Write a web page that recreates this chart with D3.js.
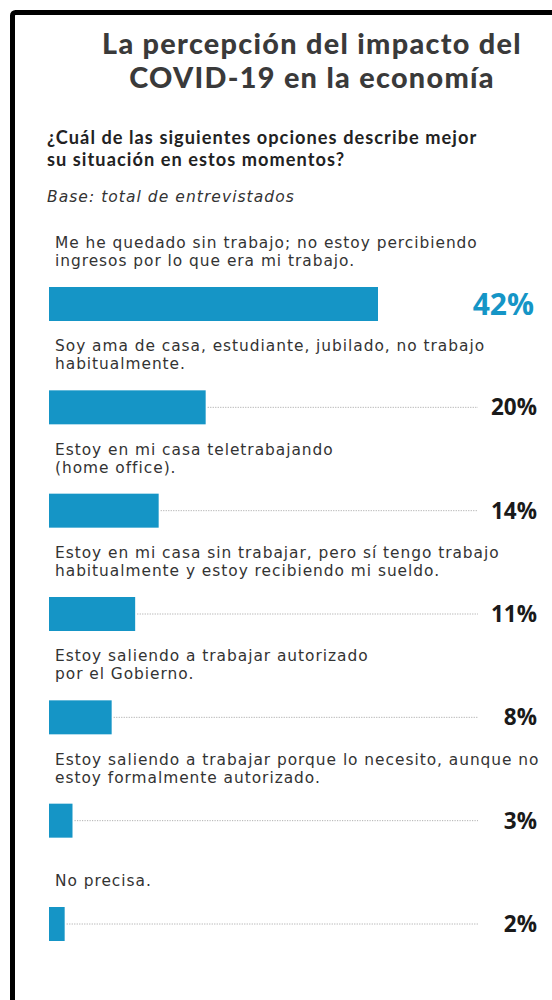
<!DOCTYPE html>
<html lang="es">
<head>
<meta charset="utf-8">
<script src="https://cdn.jsdelivr.net/npm/d3@7"></script>
<style>
  html, body { margin: 0; padding: 0; background: #fff; }
  svg { display: block; }
</style>
</head>
<body>
<div id="chart"></div>
<script>
// Survey answers, one entry per option (label lines as drawn)
const categories = [
  ["Me he quedado sin trabajo; no estoy percibiendo", "ingresos por lo que era mi trabajo."],
  ["Soy ama de casa, estudiante, jubilado, no trabajo", "habitualmente."],
  ["Estoy en mi casa teletrabajando", "(home office)."],
  ["Estoy en mi casa sin trabajar, pero sí tengo trabajo", "habitualmente y estoy recibiendo mi sueldo."],
  ["Estoy saliendo a trabajar autorizado", "por el Gobierno."],
  ["Estoy saliendo a trabajar porque lo necesito, aunque no", "estoy formalmente autorizado."],
  ["No precisa."]
];
const values = [42, 20, 14, 11, 8, 3, 2];
const valueLabels = ["42%", "20%", "14%", "11%", "8%", "3%", "2%"];

const titleLines = ["La percepción del impacto del", "COVID-19 en la economía"];
const questionLines = ["¿Cuál de las siguientes opciones describe mejor", "su situación en estos momentos?"];
const baseNote = "Base: total de entrevistados";

const W = 552, H = 1000;
const BLUE = "#1595c6";
const HEAD_FONT = "Lato, 'Open Sans', sans-serif";
const BODY_FONT = "'DejaVu Sans', 'Open Sans', sans-serif";
const NUM_FONT = "'Open Sans', 'Noto Sans', sans-serif";

const svg = d3.select("#chart").append("svg")
  .attr("width", W).attr("height", H);

// Frame
svg.append("rect")
  .attr("x", 12.5).attr("y", 12.5)
  .attr("width", W + 40).attr("height", H + 40)
  .attr("rx", 3)
  .attr("fill", "#fff")
  .attr("stroke", "#000").attr("stroke-width", 5);

// Multi-line text block: one <text>, one <tspan> per line
function block(sel, lines, x, y0, lh) {
  sel.selectAll("tspan").data(lines).join("tspan")
    .attr("x", x)
    .attr("y", (d, k) => y0 + k * lh)
    .text(d => d);
  return sel;
}

// Title
svg.append("text")
  .attr("text-anchor", "middle")
  .attr("font-family", HEAD_FONT)
  .attr("font-weight", 900).attr("font-size", 28.8)
  .attr("letter-spacing", 1.3)
  .attr("fill", "#3a3a3a")
  .call(block, titleLines, 312, 54, 34);

// Question
svg.append("text")
  .attr("font-family", HEAD_FONT)
  .attr("font-weight", 700).attr("font-size", 18.2)
  .attr("letter-spacing", 1.05)
  .attr("fill", "#222")
  .call(block, questionLines, 47, 144, 22);

svg.append("text")
  .attr("x", 47).attr("y", 202)
  .attr("font-family", BODY_FONT)
  .attr("font-style", "italic").attr("font-size", 15.5)
  .attr("letter-spacing", 1.05)
  .attr("fill", "#333")
  .text(baseNote);

// Scales
const idx = d3.range(values.length);
const x = d3.scaleLinear().domain([0, 42]).range([49, 378]);
const y = d3.scaleBand().domain(idx).range([287, 941]).paddingInner(0.671);

const rows = svg.append("g").selectAll("g").data(idx).join("g")
  .attr("transform", i => `translate(0,${y(i)})`);

// Option labels above each bar
rows.append("text")
  .attr("font-family", BODY_FONT)
  .attr("font-size", 15.4)
  .attr("letter-spacing", 0.97)
  .attr("fill", "#333")
  .each(function(i) {
    const lines = categories[i];
    d3.select(this).call(block, lines, 55, -21 - (lines.length - 1) * 18, 18);
  });

// Dotted leaders from bar end to value
rows.filter(i => i > 0).append("line")
  .attr("x1", i => x(values[i]) + 2)
  .attr("x2", 478)
  .attr("y1", y.bandwidth() / 2).attr("y2", y.bandwidth() / 2)
  .attr("stroke", "#b0b0b0").attr("stroke-width", 1)
  .attr("stroke-dasharray", "1.2,1.3");

// Bars
rows.append("rect")
  .attr("x", x(0))
  .attr("width", i => x(values[i]) - x(0))
  .attr("height", y.bandwidth())
  .attr("fill", BLUE);

// Value labels
rows.append("text")
  .attr("x", i => i === 0 ? 534 : 537)
  .attr("y", y.bandwidth() / 2)
  .attr("dy", "0.36em")
  .attr("text-anchor", "end")
  .attr("font-family", NUM_FONT)
  .attr("font-weight", 700)
  .attr("font-size", i => i === 0 ? 30 : 22.5)
  .attr("fill", i => i === 0 ? BLUE : "#1a1a1a")
  .text(i => valueLabels[i]);
</script>
</body>
</html>
